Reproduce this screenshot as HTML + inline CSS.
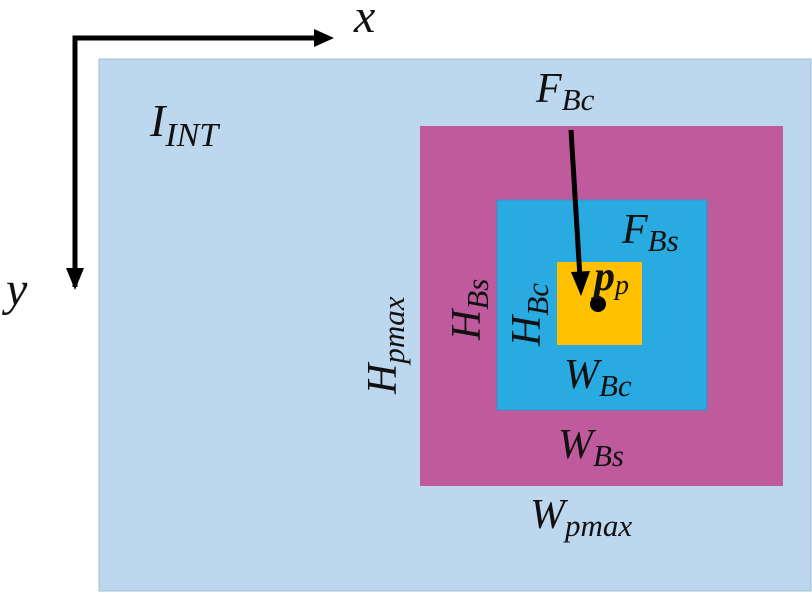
<!DOCTYPE html>
<html><head><meta charset="utf-8"><style>html,body{margin:0;padding:0;background:#fff}svg{display:block}text{font-family:"Liberation Serif","DejaVu Serif",serif;font-style:italic;fill:#111}</style></head>
<body>
<svg width="812" height="592" viewBox="0 0 812 592" xmlns="http://www.w3.org/2000/svg">
<rect x="99" y="59" width="712" height="532" fill="#bdd7ee" stroke="#9fbfd9" stroke-width="1"/>
<rect x="420" y="126" width="363" height="360" fill="#bf5a9c"/>
<rect x="497" y="200" width="210" height="210" fill="#29abe2" stroke="#3a8fc0" stroke-width="1"/>
<rect x="557" y="262" width="85" height="83" fill="#ffc000"/>
<circle cx="598" cy="304" r="8" fill="#000"/>
<path d="M75 287 L75 38 L320 38" fill="none" stroke="#000" stroke-width="5"/>
<polygon points="334,38 314,29 314,47" fill="#000"/>
<polygon points="75,290 66,268 84,268" fill="#000"/>
<line x1="571" y1="130" x2="580" y2="278" stroke="#000" stroke-width="5"/>
<polygon points="581,296 571,272 590,271" fill="#000"/>
<text x="354" y="32" font-size="48">x</text>
<text x="6" y="305" font-size="48">y</text>
<text x="150" y="136" font-size="46">I<tspan font-size="34" dy="10">INT</tspan></text>
<text x="536" y="102" font-size="42">F<tspan font-size="31" dy="8">Bc</tspan></text>
<text x="622" y="243" font-size="42">F<tspan font-size="31" dy="8">Bs</tspan></text>
<text x="594" y="290" font-size="42" font-weight="bold">p<tspan font-size="28" dy="4" font-weight="normal">p</tspan></text>
<text x="564" y="388" font-size="42">W<tspan font-size="31" dy="8">Bc</tspan></text>
<text x="558" y="458" font-size="42">W<tspan font-size="31" dy="8">Bs</tspan></text>
<text x="530" y="528" font-size="42">W<tspan font-size="31" dy="8">pmax</tspan></text>
<text transform="translate(480,340) rotate(-90)" font-size="42">H<tspan font-size="31" dy="8">Bs</tspan></text>
<text transform="translate(540,346) rotate(-90)" font-size="42">H<tspan font-size="31" dy="8">Bc</tspan></text>
<text transform="translate(396,394) rotate(-90)" font-size="42">H<tspan font-size="31" dy="8">pmax</tspan></text>
</svg>
</body></html>
